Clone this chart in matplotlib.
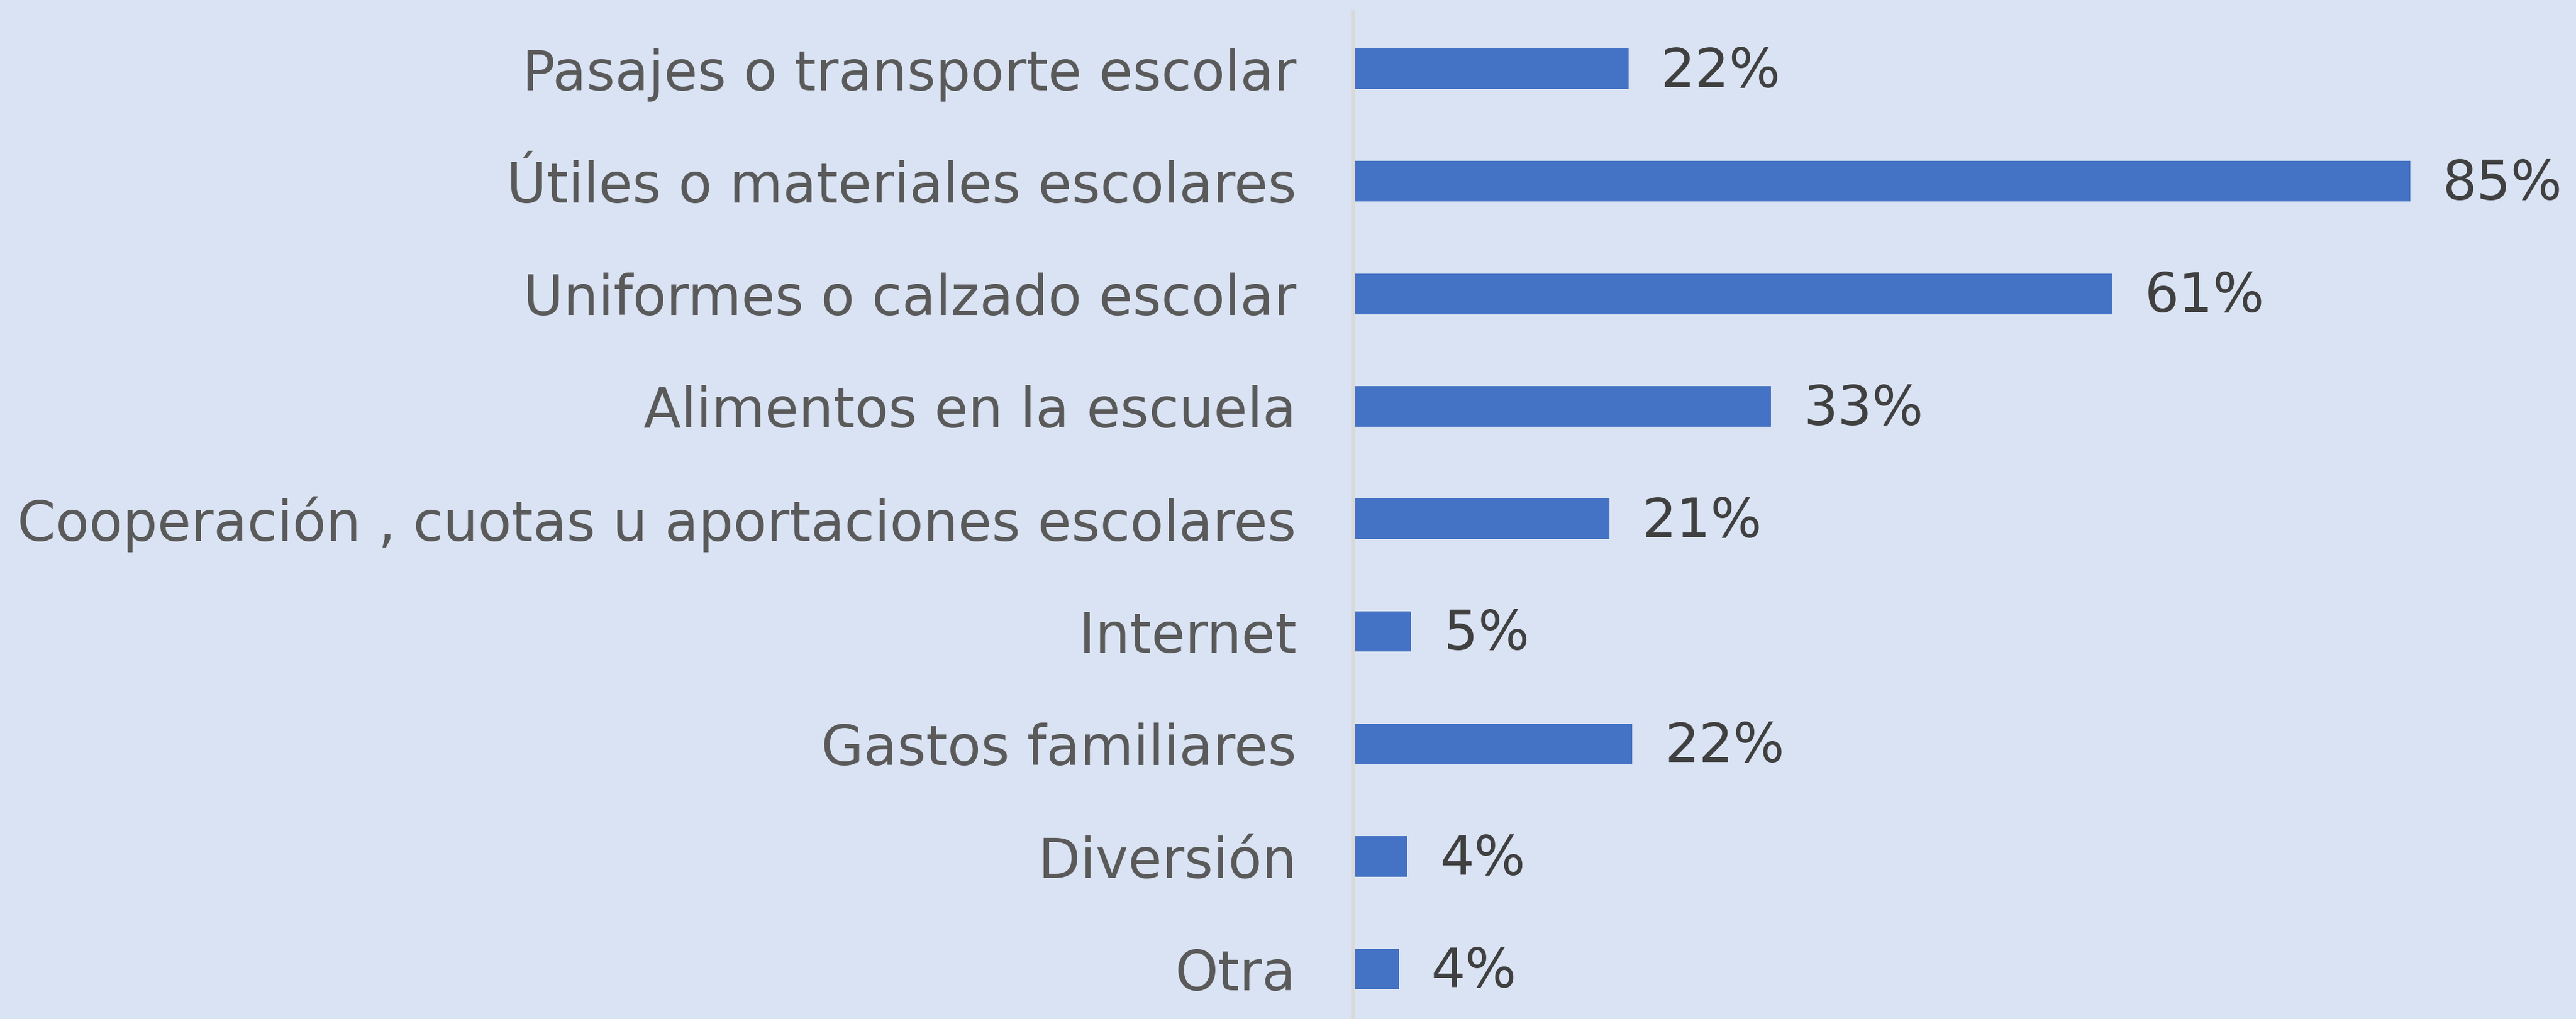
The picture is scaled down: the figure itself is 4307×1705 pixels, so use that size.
import matplotlib
matplotlib.use("Agg")
import matplotlib.pyplot as plt

categorias = ["Pasajes o transporte escolar",
              "Útiles o materiales escolares",
              "Uniformes o calzado escolar",
              "Alimentos en la escuela",
              "Cooperación , cuotas u aportaciones escolares",
              "Internet",
              "Gastos familiares",
              "Diversión",
              "Otra"]
# largo de barra (las etiquetas van redondeadas)
valores = [22, 85, 61, 33.5, 20.5, 4.5, 22.3, 4.2, 3.5]
etiquetas = ["22%", "85%", "61%", "33%", "21%", "5%", "22%", "4%", "4%"]

fondo = "#DAE3F3"
azul = "#4472C4"

plt.rcParams['font.family'] = ['DejaVu Sans']

W, H = 4307, 1705
x0 = 2266          # donde empiezan las barras
px_pct = 20.75     # pixeles por punto porcentual

fig = plt.figure(figsize=(W / 100, H / 100), dpi=100, facecolor=fondo)
ax = fig.add_axes([x0 / W, 0.0, 1 - x0 / W, 1 - 20 / H])
ax.set_facecolor(fondo)

# primero la espina (set_position reinicia los ticks)
for lado in ["top", "right", "bottom"]:
    ax.spines[lado].set_visible(False)
ax.spines["left"].set_position(("outward", 3))
ax.spines["left"].set_color("#D9D9D9")
ax.spines["left"].set_linewidth(4.5)

pos = list(range(len(categorias)))
ax.barh(pos, valores, height=0.36, color=azul)

for y, v, t in zip(pos, valores, etiquetas):
    ax.annotate(t, (v, y), xytext=(39, -4), textcoords="offset points",
                va="center", ha="left", fontsize=65, color="#404040")

ax.set_xlim(0, (W - x0) / px_pct)
ax.set_ylim(8.444, -0.505)
ax.set_yticks(pos)
ax.set_yticklabels(categorias, fontsize=66, color="#5a5a5a")
ax.tick_params(axis="y", length=0, pad=68)
ax.set_xticks([])

fig.savefig("out.png", dpi=100, facecolor=fondo)
